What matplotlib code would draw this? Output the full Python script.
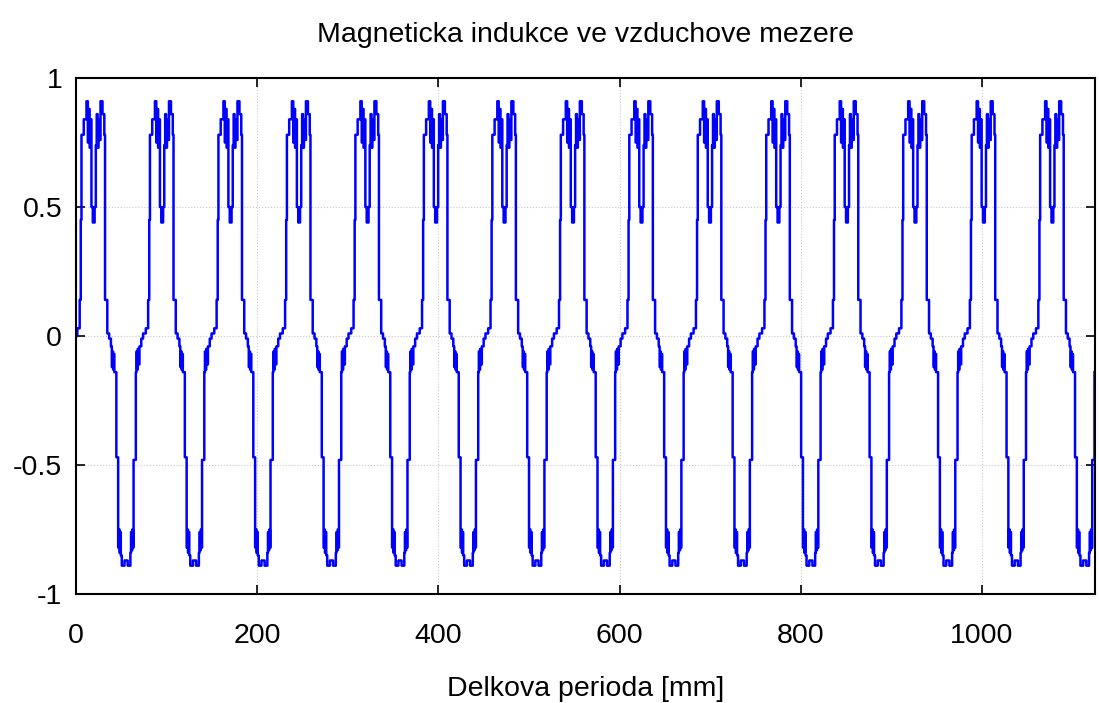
"""
Air-gap magnetic flux density along the machine length (stepped waveform).
"""

import numpy as np
import matplotlib
matplotlib.use("Agg")
import matplotlib.pyplot as plt

# One period of the stepped waveform: step start position [mm] within the
# period and the flux density value held from that position on.
STEP_POS = [
    0.0, 1.2, 2.0, 4.5, 7.5, 9.0, 10.0, 11.0, 12.0, 13.0, 14.5, 16.5, 17.8,
    18.8, 19.8, 20.8, 21.8, 23.0, 25.2, 27.2, 28.0, 30.5, 32.5, 34.5,
    35.5, 36.2, 36.9, 37.6, 38.3, 40.5, 42.5, 43.3, 44.0, 44.7, 45.4,
    46.5, 49.5, 53.0, 56.0, 56.7, 57.4, 58.1, 58.8, 59.5, 62.0, 62.7,
    63.4, 64.1, 64.8, 66.0, 68.0, 70.0, 73.0,
]
STEP_VAL = [
    0.14, 0.45, 0.78, 0.84, 0.91, 0.75, 0.88, 0.73, 0.84, 0.50, 0.44, 0.50, 0.74,
    0.86, 0.73, 0.84, 0.76, 0.91, 0.86, 0.78, 0.14, 0.01, -0.01, -0.04,
    -0.12, -0.06, -0.13, -0.07, -0.14, -0.47, -0.82, -0.75, -0.84, -0.76, -0.85,
    -0.89, -0.87, -0.89, -0.84, -0.76, -0.83, -0.75, -0.82, -0.48, -0.14, -0.06,
    -0.13, -0.05, -0.11, -0.04, -0.01, 0.01, 0.03,
]
PERIOD_MM = 75.6
PHASE_MM = 4.0
N_PERIODS = 16
X_MAX = 1125

X_TICKS = [0, 200, 400, 600, 800, 1000]
Y_TICKS = [-1, -0.5, 0, 0.5, 1]
Y_TICKLABELS = ["-1", "-0.5", "0", "0.5", "1"]


def build_series():
    pos = np.asarray(STEP_POS)
    val = np.asarray(STEP_VAL)
    xs = [np.array([0.0])]
    ys = [np.array([0.0])]
    for k in range(-1, N_PERIODS):
        xs.append(PHASE_MM + k * PERIOD_MM + pos)
        ys.append(val)
    x = np.concatenate(xs)
    y = np.concatenate(ys)
    keep = (x >= 0) & (x <= X_MAX)
    x, y = x[keep], y[keep]
    order = np.argsort(x, kind="stable")
    return x[order], y[order]


def main():
    plt.rcParams["font.family"] = ["Liberation Sans", "DejaVu Sans"]

    x, y = build_series()

    fig = plt.figure(figsize=(10.99, 7.03), dpi=100)
    ax = fig.add_axes([0.0692, 0.155, 0.9272, 0.734])

    ax.step(x, y, where="post", color="#0000ff", linewidth=1.8)

    ax.set_xlim(0, X_MAX)
    ax.set_ylim(-1, 1)
    ax.set_xticks(X_TICKS)
    ax.set_yticks(Y_TICKS)
    ax.set_yticklabels(Y_TICKLABELS)
    ax.tick_params(direction="in", length=6.5, width=1.2, top=True, right=True,
                   labelsize=20.5)
    ax.tick_params(axis="x", pad=21)
    ax.tick_params(axis="y", pad=10)
    ax.grid(True, color="#c8c8c8", linestyle=":", linewidth=0.8)
    for s in ax.spines.values():
        s.set_linewidth(1.5)

    ax.set_title("Magneticka indukce ve vzduchove mezere", fontsize=20.5, pad=26)
    ax.set_xlabel("Delkova perioda [mm]", fontsize=20.5, labelpad=19)

    fig.savefig("out.png", dpi=100)
    plt.close(fig)


if __name__ == "__main__":
    main()
